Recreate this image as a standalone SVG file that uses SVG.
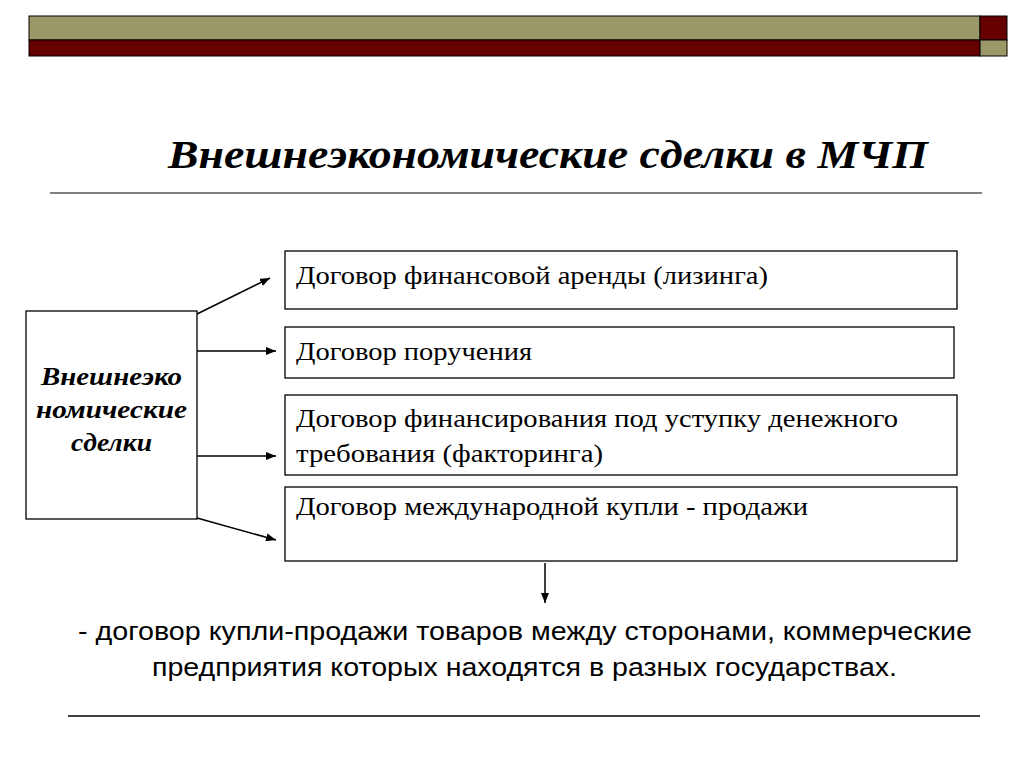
<svg xmlns="http://www.w3.org/2000/svg" width="1024" height="767" viewBox="0 0 1024 767">
<defs><marker id="a" markerWidth="10" markerHeight="8" refX="10" refY="4" orient="auto" markerUnits="userSpaceOnUse"><path d="M0,0 L10,4 L0,8 z" fill="#000"/></marker></defs>
<style>.b{fill:#fff;stroke:#000;stroke-width:1.3}.t{font-family:"Liberation Serif",serif;font-size:25px}.c{stroke:#000;stroke-width:1.5;fill:none;marker-end:url(#a)}</style>
<rect width="1024" height="767" fill="#fff"/>
<g id="bar" stroke="#000" stroke-width="1">
<rect x="29" y="16" width="951" height="24" fill="#9a9866"/>
<rect x="29" y="40" width="951" height="16" fill="#660000"/>
<rect x="980" y="16" width="27" height="24" fill="#660000"/>
<rect x="980" y="40" width="27" height="16" fill="#9a9866"/>
</g>
<text x="168" y="168" font-family="Liberation Serif,serif" font-size="40" font-weight="bold" font-style="italic" textLength="760" lengthAdjust="spacingAndGlyphs">Внешнеэкономические сделки в МЧП</text>
<line x1="50" y1="193" x2="982" y2="193" stroke="#000" stroke-width="1"/>
<g id="src"><rect class="b" x="26" y="311" width="171" height="208"/>
<text class="t" font-weight="bold" font-style="italic"><tspan x="41" y="385" textLength="141" lengthAdjust="spacingAndGlyphs">Внешнеэко</tspan><tspan x="36" y="418" textLength="151" lengthAdjust="spacingAndGlyphs">номические</tspan><tspan x="71" y="451" textLength="81" lengthAdjust="spacingAndGlyphs">сделки</tspan></text></g>
<g id="n1"><rect class="b" x="285" y="251" width="672" height="58"/><text class="t" x="296" y="284" textLength="472" lengthAdjust="spacingAndGlyphs">Договор финансовой аренды (лизинга)</text></g>
<g id="n2"><rect class="b" x="285" y="327" width="669" height="51"/><text class="t" x="296" y="360" textLength="236" lengthAdjust="spacingAndGlyphs">Договор поручения</text></g>
<g id="n3"><rect class="b" x="285" y="395" width="672" height="80"/><text class="t"><tspan x="296" y="427" textLength="602" lengthAdjust="spacingAndGlyphs">Договор финансирования под уступку денежного</tspan><tspan x="296" y="462" textLength="307" lengthAdjust="spacingAndGlyphs">требования (факторинга)</tspan></text></g>
<g id="n4"><rect class="b" x="285" y="487" width="672" height="74"/><text class="t" x="296" y="515" textLength="512" lengthAdjust="spacingAndGlyphs">Договор международной купли - продажи</text></g>
<g id="connectors">
<line class="c" x1="197" y1="314" x2="270" y2="278"/>
<line class="c" x1="197" y1="351" x2="276" y2="351"/>
<line class="c" x1="197" y1="456" x2="276" y2="456"/>
<line class="c" x1="197" y1="518" x2="276" y2="540"/>
<line class="c" x1="545" y1="563" x2="545" y2="603"/>
</g>
<text font-family="Liberation Sans,sans-serif" font-size="26"><tspan x="78" y="640" textLength="894" lengthAdjust="spacingAndGlyphs">- договор купли-продажи товаров между сторонами, коммерческие</tspan><tspan x="152" y="676" textLength="745" lengthAdjust="spacingAndGlyphs">предприятия которых находятся в разных государствах.</tspan></text>
<line x1="68" y1="716" x2="980" y2="716" stroke="#000" stroke-width="1.3"/>
</svg>
